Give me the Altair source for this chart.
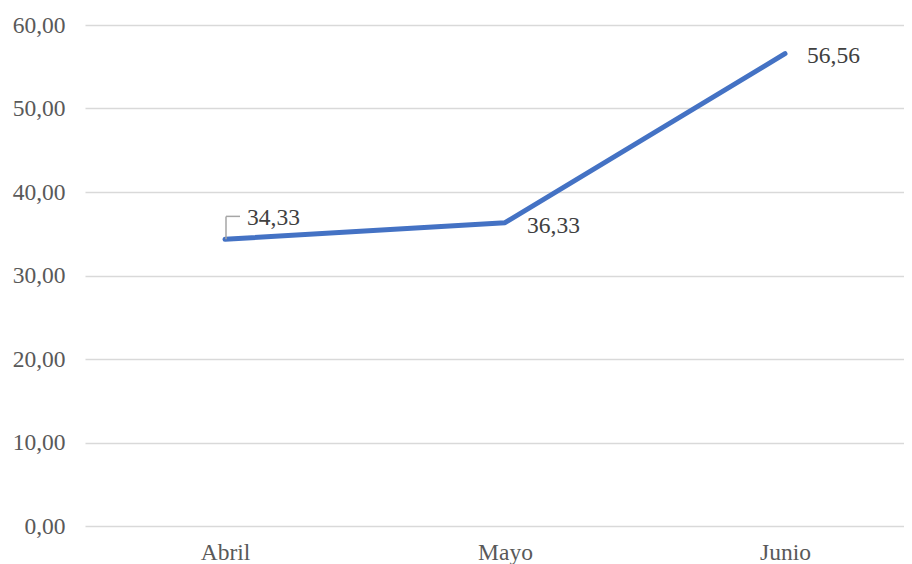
import altair as alt
import pandas as pd

months = ["Abril", "Mayo", "Junio"]
values = [34.33, 36.33, 56.56]
label_dx = [22, 22, 22]
label_dy = [-21, 3, 2]

df = pd.DataFrame({"idx": list(range(len(months))), "mes": months, "valor": values})
df["txt"] = [f"{v:.2f}".replace(".", ",") for v in values]

FONT = "Liberation Serif"
FS = 23.5

month_expr = "[" + ",".join(f"'{m}'" for m in months) + "][datum.value]"

x = alt.X("idx:Q", title=None,
          scale=alt.Scale(domain=[-0.5, 2.425], nice=False, zero=False),
          axis=alt.Axis(values=list(range(len(months))), labelExpr=month_expr,
                        labelAngle=0, domain=False, ticks=False, grid=False,
                        labelFont=FONT, labelFontSize=FS, labelColor="#595959",
                        labelPadding=14, labelFlush=False))
y = alt.Y("valor:Q", title=None,
          scale=alt.Scale(domain=[0, 60], nice=False),
          axis=alt.Axis(values=[0, 10, 20, 30, 40, 50, 60], domain=False, ticks=False,
                        labelExpr="replace(format(datum.value, '.2f'), '.', ',')",
                        labelFont=FONT, labelFontSize=FS, labelColor="#595959",
                        labelPadding=20, gridColor="#d9d9d9", gridWidth=1.5))

base = alt.Chart(df)

line = base.mark_line(color="#4472C4", strokeWidth=5, strokeCap="round",
                      strokeJoin="round").encode(x=x, y=y)

texts = []
for m, dx, dy in zip(months, label_dx, label_dy):
    texts.append(
        base.transform_filter(alt.datum.mes == m).mark_text(
            align="left", baseline="middle", dx=dx, dy=dy,
            font=FONT, fontSize=FS, color="#404040"
        ).encode(x="idx:Q", y="valor:Q", text="txt:N")
    )

first = base.transform_filter(alt.datum.mes == months[0]).transform_calculate(
    ytop="datum.valor + 2.75"
)
leader_v = first.mark_rule(color="#a6a6a6", strokeWidth=1.5, xOffset=1).encode(
    x="idx:Q", y="valor:Q", y2="ytop:Q")
leader_h = first.mark_rule(color="#a6a6a6", strokeWidth=1.5, xOffset=1, x2Offset=15).encode(
    x="idx:Q", x2="idx:Q", y="ytop:Q")

chart = alt.layer(line, leader_v, leader_h, *texts).properties(
    width=819, height=501,
    background="white",
    view=alt.ViewBackground(stroke="transparent", strokeWidth=0),
    autosize=alt.AutoSizeParams(type="none"),
    padding={"left": 77, "top": 17, "right": 0, "bottom": 38},
).configure_view(strokeWidth=0, stroke="transparent").configure_axis(domain=False)

chart.save("out.html", embed_options={"renderer": "svg", "actions": False})
